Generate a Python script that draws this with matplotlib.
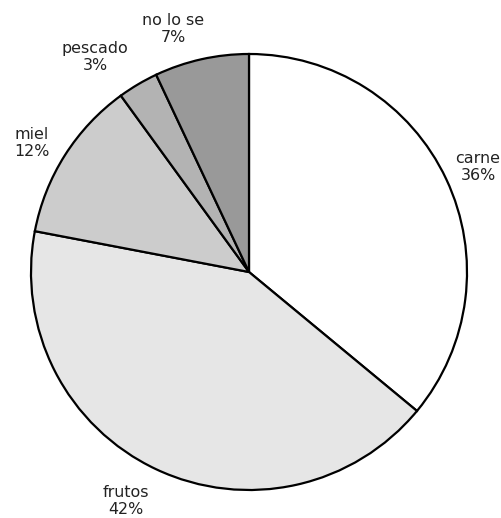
import matplotlib
matplotlib.use("Agg")
import matplotlib.pyplot as plt

categories = ["carne", "frutos", "miel", "pescado", "no lo se"]
values = [36, 42, 12, 3, 7]
colors = ["#ffffff", "#e6e6e6", "#cccccc", "#b3b3b3", "#999999"]

W, H = 501, 518
fig = plt.figure(figsize=(W / 100, H / 100), dpi=100)
ax = fig.add_axes([0, 0, 1, 1])

cx, cy, r = 249, H - 272, 218
ax.pie(values, colors=colors, startangle=90, counterclock=False,
       center=(cx, cy), radius=r, frame=True,
       wedgeprops=dict(edgecolor="black", linewidth=1.6))
ax.set_xlim(0, W)
ax.set_ylim(0, H)
ax.set_aspect("equal")
ax.axis("off")

# label anchors (pixel coordinates from the top-left)
label_xy = [(478, 167), (126, 501), (32, 143), (95, 57), (173, 29)]
for name, v, (x, y) in zip(categories, values, label_xy):
    ax.text(x, H - y, f"{name}\n{v}%", ha="center", va="center",
            fontsize=11.4, family="DejaVu Sans", color="#222222",
            linespacing=1.2)

fig.savefig("out.png", dpi=100)
